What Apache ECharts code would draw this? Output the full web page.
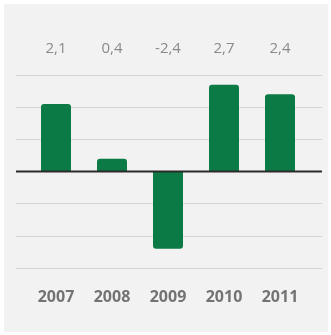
<!DOCTYPE html>
<html><head><meta charset="utf-8">
<script src="https://cdn.jsdelivr.net/npm/echarts@6/dist/echarts.min.js"></script>
<style>html,body{margin:0;padding:0;background:#fff}#c{width:331px;height:335px}</style>
</head><body><div id="c"></div>
<script>
const categories = ['2007','2008','2009','2010','2011'];
const values = [2.1, 0.4, -2.4, 2.7, 2.4];
const valueLabels = ['2,1','0,4','-2,4','2,7','2,4'];
const yTicks = [-3,-2,-1,0,1,2,3];

const chart = echarts.init(document.getElementById('c'), null, {renderer:'canvas'});
const gridTop = 75, gridBottom = 335-268;
chart.setOption({
  backgroundColor: '#ffffff',
  animation: false,
  graphic: [{type:'rect', z:-10, shape:{x:4,y:4,width:324,height:328}, style:{fill:'#f2f2f2'}}],
  grid: [
    {left:16, right:9, top:gridTop, bottom:gridBottom},
    {left:28, width:280, top:gridTop, bottom:gridBottom}
  ],
  xAxis: [
    {gridIndex:0, type:'value', min:0, max:1, show:false},
    {gridIndex:1, type:'category', data:categories, position:'bottom',
      axisLine:{show:false}, axisTick:{show:false},
      axisLabel:{color:'#737373', fontSize:16, fontWeight:'bold', fontFamily:'Open Sans', margin:21}},
    {gridIndex:1, type:'category', data:valueLabels, position:'top',
      axisLine:{show:false}, axisTick:{show:false},
      axisLabel:{color:'#8a8a8a', fontSize:15, fontFamily:'Open Sans', margin:19}}
  ],
  yAxis: [
    {gridIndex:0, type:'value', min:yTicks[0], max:yTicks[yTicks.length-1], interval:1,
      axisLabel:{show:false}, axisLine:{show:false}, axisTick:{show:false},
      splitLine:{lineStyle:{color:'#d4d4d4', width:1}}},
    {gridIndex:1, type:'value', min:yTicks[0], max:yTicks[yTicks.length-1], interval:1, show:false,
      splitLine:{show:false}}
  ],
  series: [
    {type:'bar', xAxisIndex:1, yAxisIndex:1, data:values.map(v=>({value:v, itemStyle:{borderRadius: v>=0?[3,3,0,0]:[0,0,3,3]}})),
      barWidth:30, itemStyle:{color:'#0b7a44'}, z:2},
    {type:'line', xAxisIndex:0, yAxisIndex:0, data:[[0,0],[1,0]], symbol:'none',
      lineStyle:{color:'#2a2a2a', width:2}, z:5, silent:true}
  ]
});
</script></body></html>
